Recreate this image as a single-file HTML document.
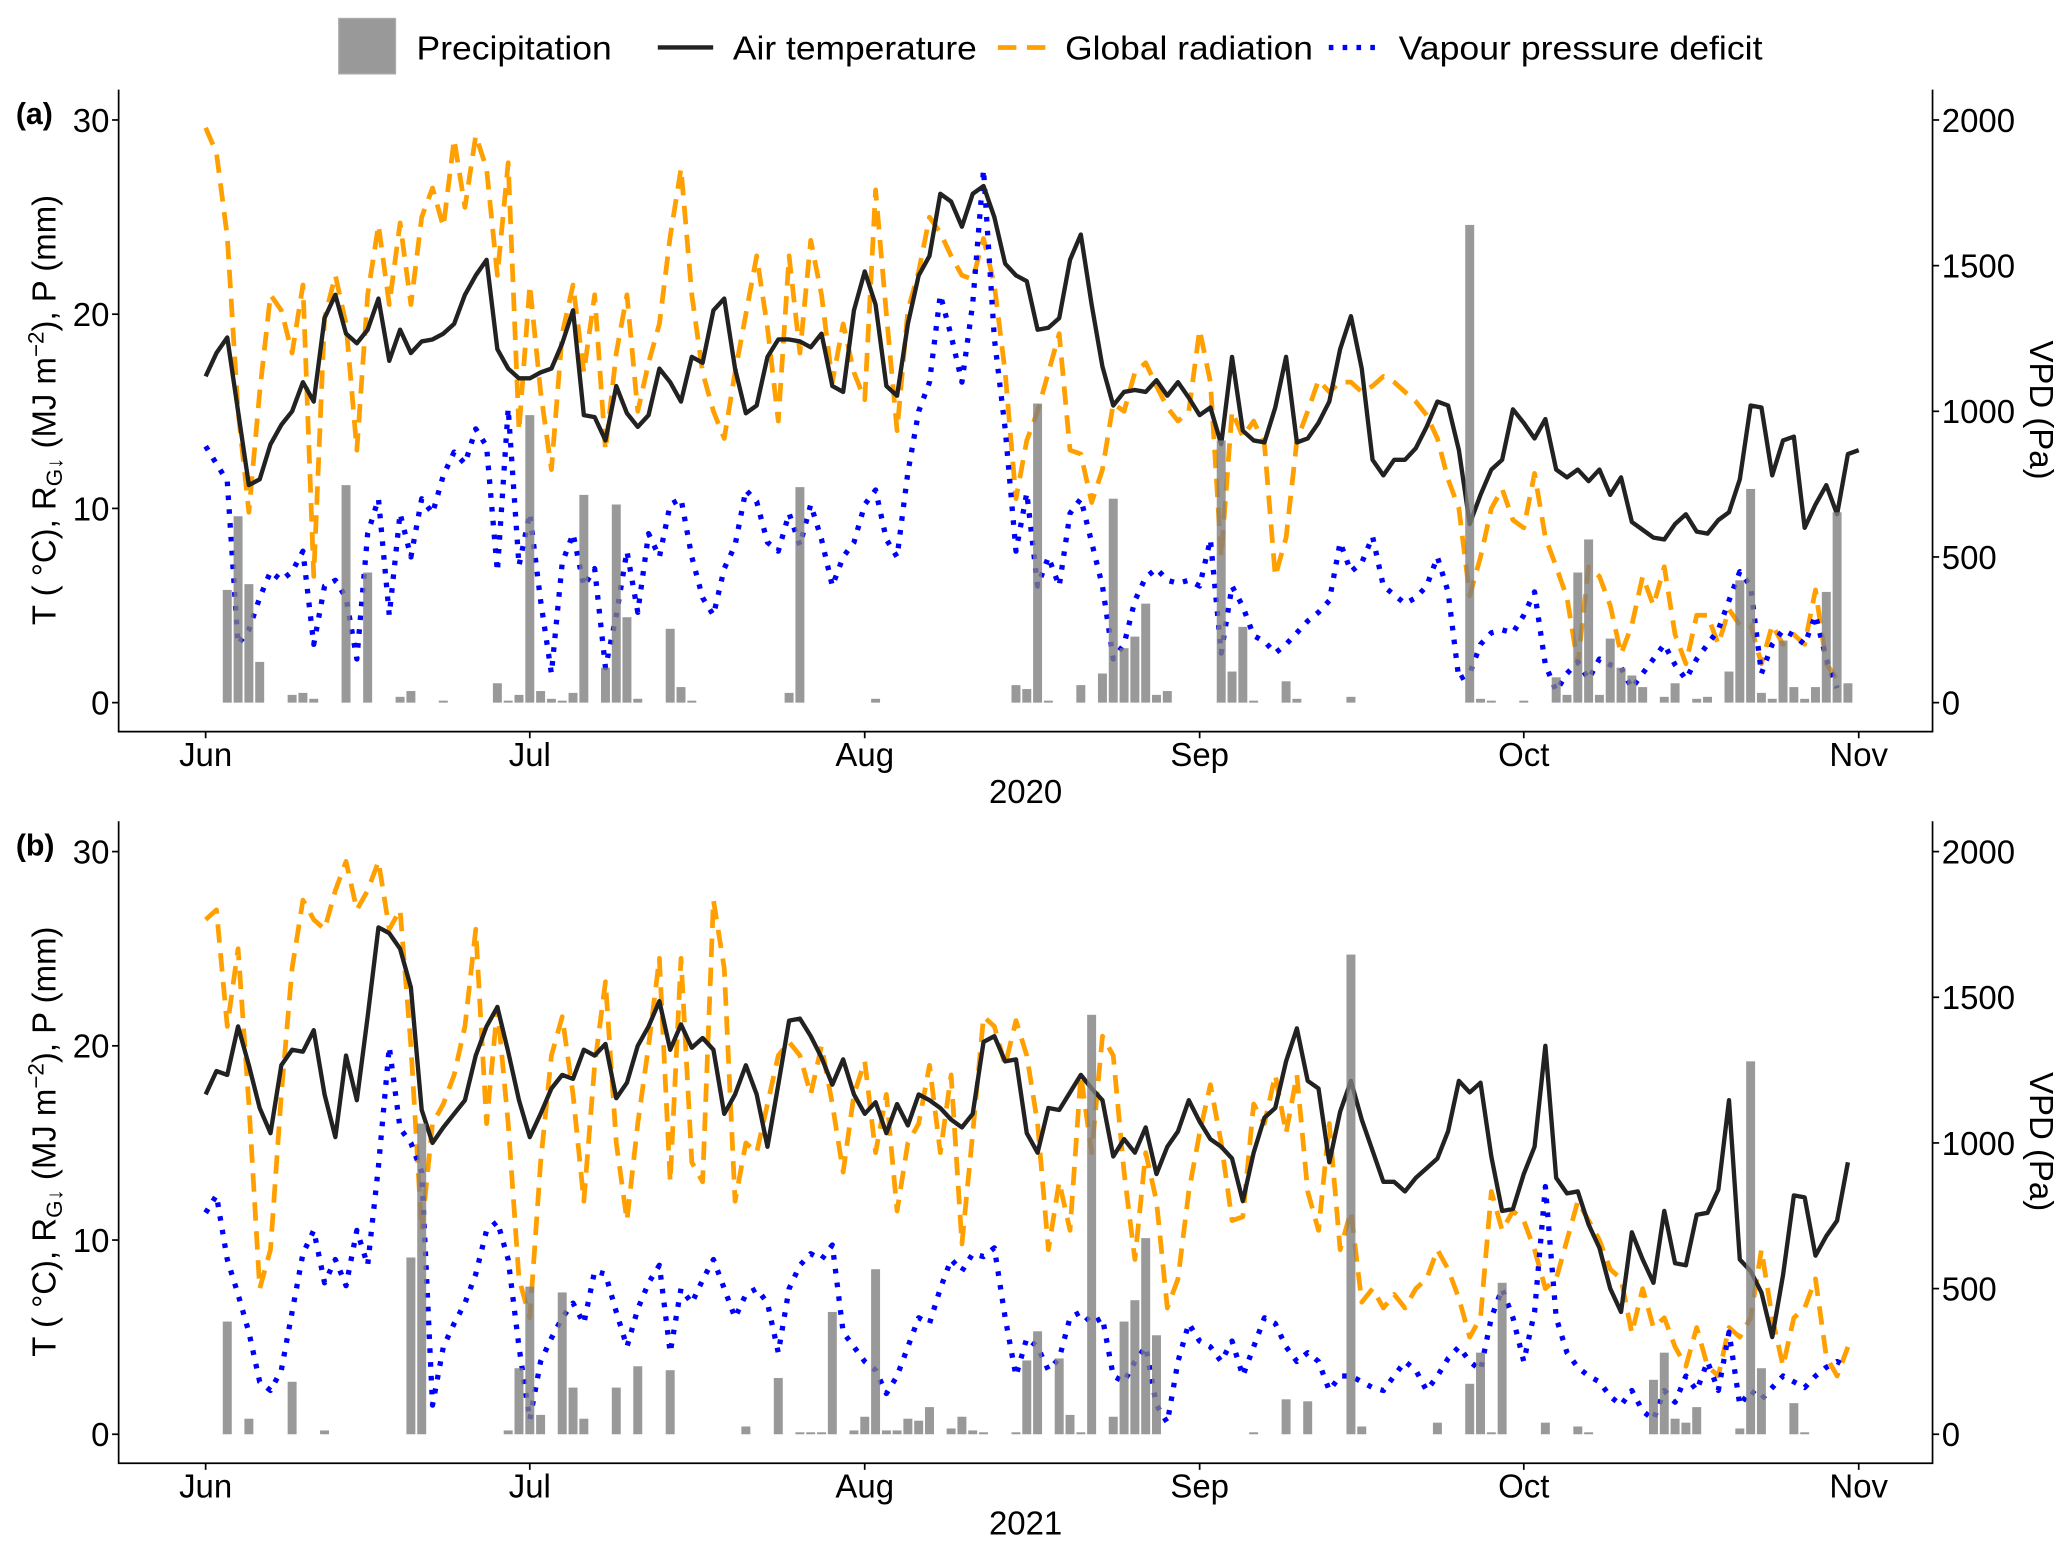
<!DOCTYPE html>
<html><head><meta charset="utf-8"><style>
html,body{margin:0;padding:0;background:#fff;}
svg{display:block;font-family:"Liberation Sans",Arial,sans-serif;}
</style></head><body>
<svg id="chart" width="2067" height="1552" viewBox="0 0 1568 1177.3" xmlns="http://www.w3.org/2000/svg">
<g>
<rect x="257" y="14" width="43" height="42" fill="#999" stroke="#aaa"/>
<text x="316" y="45" font-size="25.5" textLength="148" lengthAdjust="spacingAndGlyphs">Precipitation</text>
<line x1="499" y1="36" x2="541" y2="36" stroke="#222" stroke-width="3.3"/>
<text x="556" y="45" font-size="25.5" textLength="185" lengthAdjust="spacingAndGlyphs">Air temperature</text>
<line x1="757" y1="36" x2="799" y2="36" stroke="#FFA000" stroke-width="3.6" stroke-dasharray="14,8"/>
<text x="808" y="45" font-size="25.5" textLength="188" lengthAdjust="spacingAndGlyphs">Global radiation</text>
<line x1="1008" y1="36" x2="1050" y2="36" stroke="#0000FF" stroke-width="4" stroke-dasharray="3.5,7"/>
<text x="1061" y="45" font-size="25.5" textLength="276" lengthAdjust="spacingAndGlyphs">Vapour pressure deficit</text>
</g>
</svg>
<script>
const months = ["Jun","Jul","Aug","Sep","Oct","Nov"];
const monthStartDays = [0,30,61,92,122,153];
const leftTicks = [0,10,20,30];
const rightTicks = [0,500,1000,1500,2000];
const years = ["2020","2021"];
const panelLabels = ["(a)","(b)"];

const temp2020 = [16.8,18,18.8,15,11.2,11.5,13.3,14.3,15,16.5,15.5,19.8,21,19,18.5,19.2,20.8,17.6,19.2,18,18.6,18.7,19,19.5,21,22,22.8,18.2,17.2,16.7,16.7,17,17.2,18.5,20.2,14.8,14.7,13.5,16.3,14.9,14.2,14.8,17.2,16.5,15.5,17.8,17.5,20.2,20.8,17.2,14.9,15.3,17.8,18.7,18.7,18.6,18.3,19,16.3,16,20.2,22.2,20.5,16.3,15.8,19.5,22,23,26.2,25.8,24.5,26.2,26.6,25,22.6,22,21.7,19.2,19.3,19.8,22.8,24.1,20.5,17.3,15.3,16,16.1,16,16.6,15.8,16.5,15.7,14.8,15.2,13.3,17.8,14,13.5,13.4,15.2,17.8,13.4,13.6,14.4,15.5,18.2,19.9,17.2,12.5,11.7,12.5,12.5,13.1,14.2,15.5,15.3,13,9.2,10.7,12,12.5,15.1,14.4,13.6,14.6,12,11.6,12,11.4,12,10.7,11.6,9.3,8.9,8.5,8.4,9.2,9.7,8.8,8.7,9.4,9.8,11.5,15.3,15.2,11.7,13.5,13.7,9,10.2,11.2,9.7,12.8,13];
const rad2020 = [29.6,28.3,24,15,9.8,16,21,20.2,18,21.5,6.5,19.8,22,19.5,13,21,24.6,20.5,24.7,20.5,25,26.5,24.5,29,25.5,29.2,27.5,22,27.8,14,21.5,16,12,19,21.5,17,21,13,18,21,15,17.5,19.5,24,27.5,21,17,15,13.6,17,20,23,19.3,14.5,23,18,23.8,21,16.5,19.5,17,15.6,26.4,20,14,20.2,22.2,25,24.2,23,22,21.8,23.9,21.5,17,10.5,13.5,15,17,19,13,12.8,10.3,12,15.4,15,17,17.5,16.3,15.2,14.5,15,19.2,16.5,7.5,15,13.7,14.5,13.3,6.5,8.5,13.5,15,16.6,16,16.5,16.5,16,16.3,16.8,16.5,16,15.5,14.8,13.6,11.5,10,5.5,7.5,10,11,9.4,9,11.8,8.5,7,5.4,2,7,6.5,5,2.5,4,6.5,5,7,3.5,2,4.5,4.5,3,4.8,4,4,2,4,3,3.5,3,5.8,2,1.2];
const vpd2020 = [880,820,760,200,250,360,450,420,450,520,200,400,420,360,150,580,700,300,650,500,700,650,780,860,820,940,880,450,1010,470,650,350,100,480,580,400,460,120,300,520,310,580,500,680,700,500,360,300,460,540,730,690,550,520,650,540,680,560,400,500,550,680,730,560,500,790,1000,1100,1400,1260,1100,1370,1830,1250,940,520,720,400,500,400,650,700,550,400,150,200,350,430,460,420,410,420,400,560,170,400,330,230,210,170,200,240,280,310,350,550,450,480,570,400,370,340,360,400,500,380,80,100,200,240,250,240,300,380,130,40,100,140,80,150,130,120,50,100,150,200,130,80,150,200,250,350,450,400,100,200,250,230,200,300,150,50];
const precipDays2020 = [2,3,4,5,8,9,10,13,15,18,19,22,27,28,29,30,31,32,33,34,35,37,38,39,40,43,44,45,54,55,62,75,76,77,78,81,83,84,85,86,87,88,89,94,95,96,97,100,101,106,117,118,119,122,125,126,127,128,129,130,131,132,133,135,136,138,139,141,142,143,144,145,146,147,148,149,150,151,152];
const precip2020 = [5.8,9.6,6.1,2.1,0.4,0.5,0.2,11.2,6.7,0.3,0.6,0.1,1.0,0.1,0.4,14.8,0.6,0.2,0.1,0.5,10.7,1.8,10.2,4.4,0.2,3.8,0.8,0.1,0.5,11.1,0.2,0.9,0.7,15.4,0.1,0.9,1.5,10.5,2.8,3.4,5.1,0.4,0.6,13.5,1.6,3.9,0.1,1.1,0.2,0.3,24.6,0.2,0.1,0.1,1.3,0.4,6.7,8.4,0.4,3.3,1.8,1.4,0.8,0.3,1.0,0.2,0.3,1.6,6.3,11.0,0.5,0.2,3.2,0.8,0.2,0.8,5.7,9.8,1.0];

const temp2021 = [17.5,18.7,18.5,21,19,16.8,15.5,19,19.8,19.7,20.8,17.5,15.3,19.5,17.2,21.5,26.1,25.8,25,23,16.7,15,15.8,16.5,17.2,19.5,21,22,19.7,17.2,15.3,16.5,17.8,18.5,18.3,19.8,19.5,20.1,17.3,18.1,20,21,22.3,19.8,21.1,19.9,20.4,19.8,16.5,17.5,19,17.5,14.8,18,21.3,21.4,20.5,19.4,18,19.3,17.5,16.5,17.1,15.5,17,15.9,17.5,17.2,16.8,16.2,15.8,16.5,20.2,20.5,19.2,19.3,15.5,14.5,16.8,16.7,17.6,18.5,17.8,17.2,14.3,15.2,14.5,15.8,13.4,14.8,15.6,17.2,16.1,15.2,14.8,14.2,12,14.5,16.3,16.8,19.2,20.9,18.2,17.8,14,16.6,18.2,16.2,14.6,13,13,12.5,13.2,13.7,14.2,15.6,18.2,17.6,18.1,14.3,11.5,11.6,13.4,14.8,20,13.2,12.4,12.5,10.8,9.6,7.5,6.3,10.4,9,7.8,11.5,8.8,8.7,11.3,11.4,12.6,17.2,9,8.4,7.3,5,8.2,12.3,12.2,9.2,10.2,11,14];
const rad2021 = [26.5,27,21,25,17,7.5,9.5,17.5,24,27.5,26.5,26,28,29.5,27,28,29.5,26,27,20,10.5,16,17,18.5,21,26,16,22,16,8,6,14,19.5,21.5,17.5,12,19,23.3,15,11,16,20,24.5,13,24.5,14,13,27.5,24,12,15,14.5,17,19.5,20.2,19.5,17.5,20,17,13.5,17.5,19.2,14.5,17.5,11.5,15,16,19,14.5,18.5,9.8,15.5,21.5,21,19,21.3,19.5,16,9.5,13,10.5,18.5,14.5,20.5,19.5,13.5,9,14.5,12,6.5,8,12.5,15.5,18,15,11,11.2,17,16,18.5,15.5,18.5,12.5,10.5,16,9.5,11.5,6.8,7.5,6.5,7.2,6.5,7.5,8,9.5,8.5,7,5,6,12.5,10.5,11.5,11,9.5,7.5,8,10,12,11,10,8.5,8,5.2,7.5,5.5,6,4.5,3.5,5.5,3.5,3,5.5,5,6,9.5,6,3.5,6,6.5,8,4,3,4.5];
const vpd2021 = [760,820,600,480,350,180,150,220,420,620,700,520,600,510,700,580,920,1330,1050,1000,900,100,300,380,450,550,700,730,600,300,50,250,330,400,450,380,560,550,420,300,430,520,580,280,500,450,530,600,500,400,480,500,450,280,500,580,620,600,650,350,300,250,220,140,200,300,400,380,500,600,560,620,610,640,400,200,330,300,220,260,400,420,380,400,200,180,250,300,100,40,250,380,320,300,250,320,200,300,400,380,300,250,280,250,150,200,200,180,160,150,200,250,220,150,200,260,300,250,220,400,500,400,250,420,850,400,280,230,200,180,130,100,150,80,50,150,110,200,150,250,150,350,100,150,120,160,200,180,160,200,230,250,230];
const precipDays2021 = [2,4,8,11,19,20,28,29,30,31,33,34,35,38,40,43,50,53,55,56,57,58,60,61,62,63,64,65,66,67,69,70,71,72,75,76,77,79,80,81,82,84,85,86,87,88,97,100,102,106,107,114,117,118,119,120,124,127,128,134,135,136,137,138,142,143,144,147,148];
const precip2021 = [5.8,0.8,2.7,0.2,9.1,16,0.2,3.4,7.6,1.0,7.3,2.4,0.8,2.4,3.5,3.3,0.4,2.9,0.1,0.1,0.1,6.3,0.2,0.9,8.5,0.2,0.2,0.8,0.7,1.4,0.3,0.9,0.2,0.1,0.1,3.8,5.3,3.9,1.0,0.1,21.6,0.9,5.8,6.9,10.1,5.1,0.1,1.8,1.7,24.7,0.4,0.6,2.6,4.2,0.1,7.8,0.6,0.4,0.1,2.8,4.2,0.8,0.6,1.4,0.3,19.2,3.4,1.6,0.1];

const SVGNS = "http://www.w3.org/2000/svg";
const svg = document.getElementById("chart");
function mk(tag, attrs, parent){
  const e = document.createElementNS(SVGNS, tag);
  for (const k in attrs) e.setAttribute(k, attrs[k]);
  (parent||svg).appendChild(e);
  return e;
}
const X0 = 90, X1 = 1466, DAY0X = 156, DAYW = (1410-156)/153;
function xScale(d){ return DAY0X + d*DAYW; }

function drawPanel(pi, top, temp, rad, vpd, pDays, pVals){
  const y0 = top + 465, y30 = top + 23, bottom = top + 487;
  const yL = v => y0 - (y0-y30)*v/30;
  const yR = v => y0 - (y0-y30)*v/2000;
  const g = mk("g", {});
  
  
  function line(arr, sc, stroke, w, dash, name){
    let d = "";
    arr.forEach((v,i)=>{ d += (i?"L":"M") + xScale(i).toFixed(1) + "," + sc(v).toFixed(1); });
    const p = mk("path", {d:d, fill:"none", stroke:stroke, "stroke-width":w, "stroke-linejoin":"round"}, g);
    if (dash) p.setAttribute("stroke-dasharray", dash);
    
    
  }
  line(rad, yL, "#FFA000", 3.6, "14,8", "global-radiation-line");
  line(vpd, yR, "#0000FF", 4, "3.5,7", "vpd-line");
  line(temp, yL, "#222", 3.3, null, "air-temperature-line");
  pDays.forEach((d,i)=>{
    const h = yL(0) - yL(pVals[i]);
    const r = mk("rect", {x:(xScale(d)-3.4).toFixed(1), y:(y0-h).toFixed(1), width:6.8, height:Math.max(h,0.8).toFixed(1), fill:"#808080", "fill-opacity":0.8}, g);
    
    
  });
  const ax = mk("path", {d:`M${X0},${top} V${bottom} H${X1} V${top}`, fill:"none", stroke:"#000", "stroke-width":1.3}, g);
  
  
  leftTicks.forEach(v=>{
    mk("line",{x1:X0-5,x2:X0,y1:yL(v),y2:yL(v),stroke:"#000","stroke-width":1.3},g);
    const t = mk("text",{x:X0-7,y:yL(v)+9,"font-size":25,"text-anchor":"end"},g);
    t.textContent = v;
    
    
  });
  rightTicks.forEach(v=>{
    mk("line",{x1:X1,x2:X1+5,y1:yR(v),y2:yR(v),stroke:"#000","stroke-width":1.3},g);
    const t = mk("text",{x:X1+7,y:yR(v)+9,"font-size":25},g);
    t.textContent = v;
    
    
  });
  months.forEach((m,i)=>{
    const x = xScale(monthStartDays[i]);
    mk("line",{x1:x,x2:x,y1:bottom,y2:bottom+5,stroke:"#000","stroke-width":1.3},g);
    const t = mk("text",{x:x,y:bottom+26,"font-size":25,"text-anchor":"middle"},g);
    t.textContent = m;
    
    
  });
  const yt = mk("text",{x:778,y:bottom+54,"font-size":25,"text-anchor":"middle"},g);
  yt.textContent = years[pi];
  
  
  const pl = mk("text",{x:12,y:top+26,"font-size":23,"font-weight":"bold"},g);
  pl.textContent = panelLabels[pi];
  
  
  const cy = top + 243;
  const lt = mk("text",{transform:`translate(42,${cy}) rotate(-90)`,"font-size":25,"text-anchor":"middle"},g);
  lt.innerHTML = 'T ( °C), R<tspan font-size="17" dy="5">G↓</tspan><tspan dy="-5"> (MJ m</tspan><tspan font-size="17" dy="-9">−2</tspan><tspan dy="9">), P (mm)</tspan>';
  
  
  const rt = mk("text",{transform:`translate(1540,${cy}) rotate(90)`,"font-size":25,"text-anchor":"middle"},g);
  rt.textContent = "VPD (Pa)";
  
  
}
drawPanel(0, 68, temp2020, rad2020, vpd2020, precipDays2020, precip2020);
drawPanel(1, 623, temp2021, rad2021, vpd2021, precipDays2021, precip2021);
</script>
</body></html>
